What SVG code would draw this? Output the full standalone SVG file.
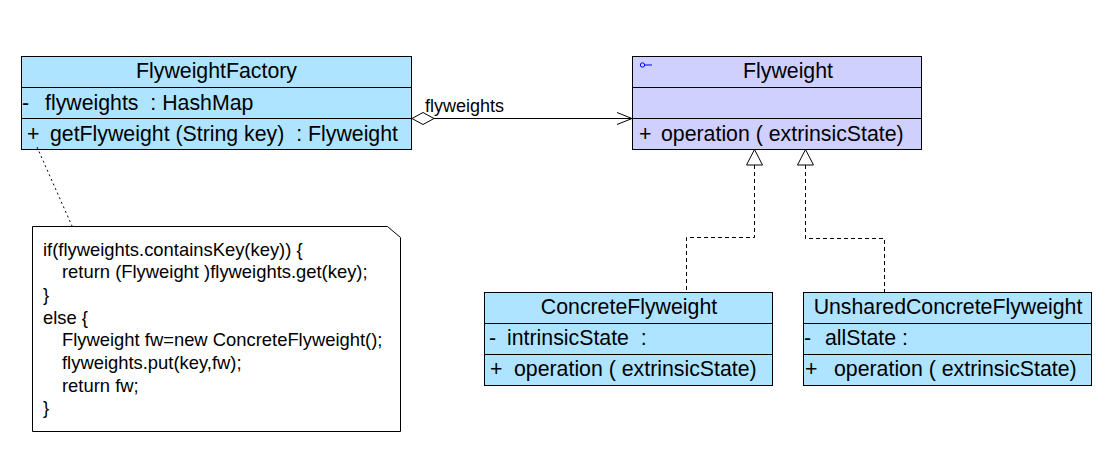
<svg xmlns="http://www.w3.org/2000/svg" width="1106" height="459" viewBox="0 0 1106 459">
<style>
  text { font-family: "Liberation Sans", Arial, sans-serif; fill: #000; white-space: pre; }
  .cls { font-size: 21.3px; }
  .ctr { text-anchor: middle; }
  .note { font-size: 18.4px; }
  .lbl { font-size: 18px; }
  .blue { fill: #aee4ff; stroke: #000; stroke-width: 1; }
  .lav { fill: #d0d0ff; stroke: #000; stroke-width: 1; }
  .div { stroke: #000; stroke-width: 1; }
  .edge { fill: none; stroke: #000; stroke-width: 1; }
  .dash { fill: none; stroke: #000; stroke-width: 1; stroke-dasharray: 4 3; }
  .dot { fill: none; stroke: #000; stroke-width: 1; stroke-dasharray: 2 3; }
  .head { fill: #fff; stroke: #000; stroke-width: 1; }
</style>

<g id="FlyweightFactory">
  <rect class="blue" x="21.5" y="56.5" width="390" height="93"/>
  <line class="div" x1="21.5" y1="87.5" x2="411.5" y2="87.5"/>
  <line class="div" x1="21.5" y1="118.5" x2="411.5" y2="118.5"/>
  <text class="cls ctr" x="216.5" y="77.5">FlyweightFactory</text>
  <text class="cls" x="22" y="109.5">-</text>
  <text class="cls" x="45" y="109.5">flyweights  : HashMap</text>
  <text class="cls" x="27" y="140.5">+</text>
  <text class="cls" x="50" y="140.5">getFlyweight (String key)  : Flyweight</text>
</g>

<g id="Flyweight">
  <rect class="lav" x="632.5" y="56.5" width="289" height="93"/>
  <line class="div" x1="632.5" y1="87.5" x2="921.5" y2="87.5"/>
  <line class="div" x1="632.5" y1="118.5" x2="921.5" y2="118.5"/>
  <circle cx="642.5" cy="65" r="2.2" fill="none" stroke="#0000ff" stroke-width="1"/>
  <line x1="644.7" y1="65" x2="652" y2="65" stroke="#0000ff" stroke-width="1"/>
  <text class="cls ctr" x="788" y="77.5">Flyweight</text>
  <text class="cls" x="639" y="140.5">+</text>
  <text class="cls" x="661" y="140.5">operation ( extrinsicState)</text>
</g>

<g id="ConcreteFlyweight">
  <rect class="blue" x="484.5" y="292.5" width="288" height="93"/>
  <line class="div" x1="484.5" y1="323.5" x2="772.5" y2="323.5"/>
  <line class="div" x1="484.5" y1="354.5" x2="772.5" y2="354.5"/>
  <text class="cls ctr" x="629" y="314">ConcreteFlyweight</text>
  <text class="cls" x="489" y="345">-</text>
  <text class="cls" x="507" y="345">intrinsicState  :</text>
  <text class="cls" x="490" y="376">+</text>
  <text class="cls" x="514" y="376">operation ( extrinsicState)</text>
</g>

<g id="UnsharedConcreteFlyweight">
  <rect class="blue" x="803.5" y="292.5" width="288" height="93"/>
  <line class="div" x1="803.5" y1="323.5" x2="1091.5" y2="323.5"/>
  <line class="div" x1="803.5" y1="354.5" x2="1091.5" y2="354.5"/>
  <text class="cls ctr" x="948" y="314">UnsharedConcreteFlyweight</text>
  <text class="cls" x="804" y="345">-</text>
  <text class="cls" x="825" y="345">allState :</text>
  <text class="cls" x="805" y="376">+</text>
  <text class="cls" x="834" y="376">operation ( extrinsicState)</text>
</g>

<g id="Note">
  <path d="M32.5,226.5 H387.5 L400.5,237.5 V431.5 H32.5 Z" fill="#fff" stroke="#000" stroke-width="1"/>
  <text class="note" x="43" y="255.5">if(flyweights.containsKey(key)) {</text>
  <text class="note" x="62" y="278.2">return (Flyweight )flyweights.get(key);</text>
  <text class="note" x="43" y="300.9">}</text>
  <text class="note" x="43" y="323.6">else {</text>
  <text class="note" x="62" y="346.3">Flyweight fw=new ConcreteFlyweight();</text>
  <text class="note" x="62" y="369">flyweights.put(key,fw);</text>
  <text class="note" x="62" y="391.7">return fw;</text>
  <text class="note" x="43" y="414.4">}</text>
</g>

<g id="connectors">
  <!-- aggregation -->
  <polygon class="head" points="412,118.5 423,112.5 434,118.5 423,124.5"/>
  <line class="edge" x1="434" y1="118.5" x2="632" y2="118.5"/>
  <polyline class="edge" points="617,112.5 632,118.5 617,124.5"/>
  <text class="lbl" x="425" y="112">flyweights</text>
  <!-- realizations -->
  <path class="dash" d="M754.5,165 V237.5 H686.5 V292"/>
  <polygon class="head" points="754.5,149.5 746.5,165 762.5,165"/>
  <path class="dash" d="M805.5,165 V238.5 H884.5 V292"/>
  <polygon class="head" points="805.5,149.5 797.5,165 813.5,165"/>
  <!-- note anchor -->
  <line class="dot" x1="37" y1="147" x2="72" y2="226"/>
</g>
</svg>
